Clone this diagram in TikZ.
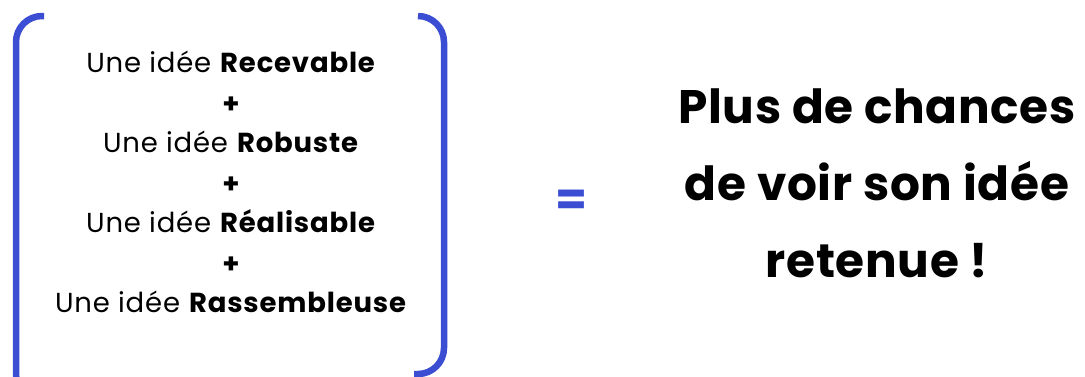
\documentclass[tikz,border=0pt]{standalone}
\usepackage{fontspec}
\setmainfont{Poppins}
\usetikzlibrary{positioning}
\definecolor{ideablue}{HTML}{3A4DD3}

\begin{document}
\begin{tikzpicture}[
  x=1pt, y=-1pt,
  every node/.style={inner sep=0pt},
  idealine/.style={font=\fontsize{27.5}{32}\selectfont\addfontfeature{LetterSpace=3}, anchor=base},
  plusline/.style={font=\fontsize{27.5}{32}\selectfont\bfseries, anchor=base},
  resultline/.style={font=\fontsize{47}{52}\selectfont\bfseries\addfontfeature{LetterSpace=1.5}, anchor=base},
  bracket/.style={draw=ideablue, line width=6.5pt, rounded corners=26pt},
]
\useasboundingbox (0,0) rectangle (1085,376);
% brackets
\draw[bracket] (44,16) -- (16,16) -- (16,400) -- (44,400);
\draw[bracket] (418,16) -- (444,16) -- (444,374) -- (414,374);
% left column
\node[idealine] (rec) at (231,72) {Une idée \textbf{Recevable}};
\node[plusline] (p1) at (231,113) {+};
\node[idealine] (rob) at (231,152) {Une idée \textbf{Robuste}};
\node[plusline] (p2) at (231,193) {+};
\node[idealine] (rea) at (231,232) {Une idée \textbf{Réalisable}};
\node[plusline] (p3) at (231,273) {+};
\node[idealine] (ras) at (231,312) {Une idée \textbf{Rassembleuse}};
% equals
\node[font=\fontsize{46}{50}\selectfont\bfseries, text=ideablue] (eq) at (572,203) {=};
% right column
\node[resultline] (res1) at (877,123) {Plus de chances};
\node[resultline] (res2) at (877,200) {de voir son idée};
\node[resultline] (res3) at (877,277) {retenue !};
\end{tikzpicture}
\end{document}
